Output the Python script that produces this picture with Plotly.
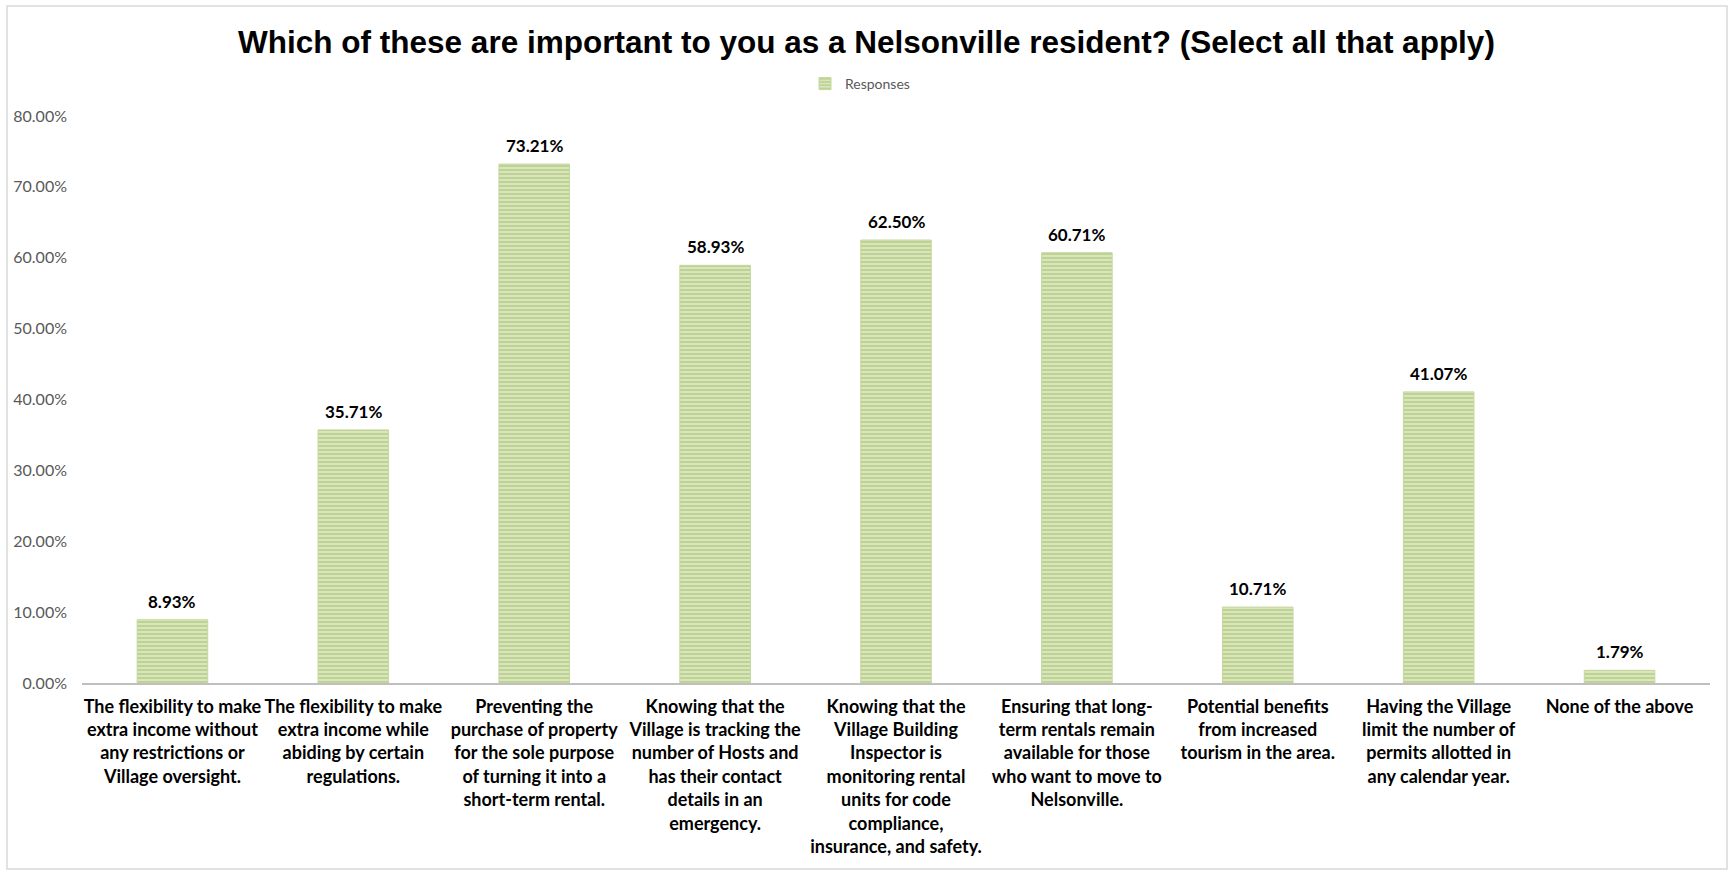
import plotly.graph_objects as go

categories = [
    "The flexibility to make<br>extra income without<br>any restrictions or<br>Village oversight.",
    "The flexibility to make<br>extra income while<br>abiding by certain<br>regulations.",
    "Preventing the<br>purchase of property<br>for the sole purpose<br>of turning it into a<br>short-term rental.",
    "Knowing that the<br>Village is tracking the<br>number of Hosts and<br>has their contact<br>details in an<br>emergency.",
    "Knowing that the<br>Village Building<br>Inspector is<br>monitoring rental<br>units for code<br>compliance,<br>insurance, and safety.",
    "Ensuring that long-<br>term rentals remain<br>available for those<br>who want to move to<br>Nelsonville.",
    "Potential benefits<br>from increased<br>tourism in the area.",
    "Having the Village<br>limit the number of<br>permits allotted in<br>any calendar year.",
    "None of the above",
]
responses = [0.0893, 0.3571, 0.7321, 0.5893, 0.6250, 0.6071, 0.1071, 0.4107, 0.0179]
y_ticks = [0, 0.1, 0.2, 0.3, 0.4, 0.5, 0.6, 0.7, 0.8]
series_name = "Responses"
title_text = "Which of these are important to you as a Nelsonville resident? (Select all that apply)"

W, H = 1733, 874
ML, MR, MT, MB = 82, 23, 116, 191
pw, ph = W - ML - MR, H - MT - MB

fig = go.Figure()
fig.add_trace(go.Bar(
    x=categories,
    y=responses,
    name=series_name,
    marker=dict(
        color="#e0eacb",
        line=dict(color="#c4d79b", width=1),
        pattern=dict(shape="-", fgcolor="#9bbb59", size=4, solidity=0.6),
    ),
    showlegend=True,
))

annotations = [
    dict(
        x=c, y=v, xref="x", yref="y",
        text=f"{v * 100:.2f}%",
        showarrow=False,
        yanchor="bottom", yshift=6,
        font=dict(family="Lato", size=17, color="#000000", weight="bold"),
    )
    for c, v in zip(categories, responses)
]

fig.update_layout(
    width=W, height=H,
    margin=dict(l=ML, r=MR, t=MT, b=MB, pad=0),
    paper_bgcolor="white",
    plot_bgcolor="white",
    bargap=0.61,
    title=dict(
        text=title_text,
        x=0.5, xanchor="center",
        y=1 - 42 / H, yanchor="middle",
        font=dict(family="Liberation Sans", size=31.5, color="#000000", weight="bold"),
    ),
    legend=dict(
        orientation="h",
        x=0.5 - 36 / pw, xanchor="center",
        y=1 + (MT - 84) / ph, yanchor="middle",
        font=dict(family="Lato", size=14, color="#595959"),
        itemwidth=30,
    ),
    xaxis=dict(
        showgrid=False,
        showline=True, linecolor="#bfbfbf", linewidth=2,
        ticks="",
        tickangle=0,
        tickfont=dict(family="Lato", size=18, color="#000000", weight="bold"),
        ticklabelstandoff=6,
        automargin=False,
    ),
    yaxis=dict(
        range=[0, 0.8],
        tickvals=y_ticks,
        tickformat=".2%",
        showgrid=False,
        showline=False,
        zeroline=False,
        ticks="",
        tickfont=dict(family="Lato", size=16, color="#595959"),
        ticklabelstandoff=14,
        automargin=False,
    ),
    annotations=annotations,
    shapes=[dict(
        type="rect", xref="paper", yref="paper",
        x0=(7 - ML) / pw, x1=(1727 - ML) / pw,
        y0=-(869 - (H - MB)) / ph, y1=1 + (MT - 6) / ph,
        line=dict(color="#d9d9d9", width=1.5),
        fillcolor="rgba(0,0,0,0)",
        layer="below",
    )],
)

fig.write_html("out.html")
